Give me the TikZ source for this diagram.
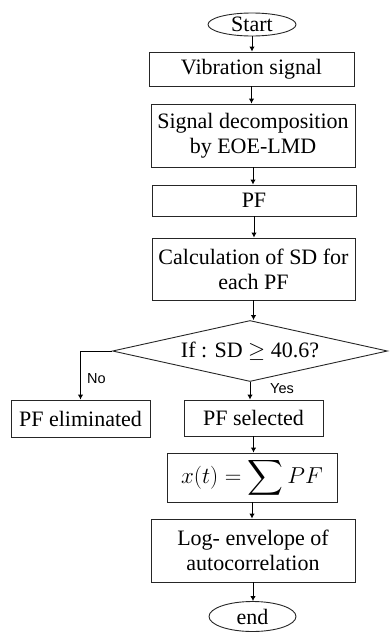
\RequirePackage{fix-cm}
\documentclass[tikz,border=0pt]{standalone}
\usepackage{amsmath}
\usepackage{fontspec}
\setmainfont{Liberation Serif}
\newfontfamily\labelfont{Liberation Sans}
\usetikzlibrary{shapes.geometric,arrows.meta,calc}
\tikzset{
  box/.style={draw=black!85, line width=0.9pt, rectangle, inner sep=0pt, align=center,
    font=\fontsize{22}{25}\selectfont},
  term/.style={draw=black!85, line width=0.9pt, ellipse, inner sep=0pt,
    font=\fontsize{22}{25}\selectfont},
  flow/.style={draw=black, line width=0.9pt, -{Latex[length=5pt,width=5.5pt]}},
  lbl/.style={font=\labelfont\fontsize{14.5}{16}\selectfont, inner sep=0pt}
}
\begin{document}
\begin{tikzpicture}[x=1pt,y=-1pt]
\useasboundingbox (0,0) rectangle (389,632);
\node[term, minimum width=88pt, minimum height=23pt] (start) at (252,24.5) {Start};
\node[box, minimum width=205pt, minimum height=34pt] (vib) at (251.5,69) {Vibration signal};
\node[box, minimum width=204pt, minimum height=63pt] (dec) at (253,135.5) {Signal decomposition\\by EOE-LMD};
\node[box, minimum width=204pt, minimum height=31pt] (pf) at (254,200.5) {PF};
\node[box, minimum width=203pt, minimum height=62pt] (calc) at (253.5,269) {Calculation of SD for\\each PF};
\node[draw=black!85, line width=0.9pt, diamond, aspect=4.52, inner sep=0pt,
  minimum width=275pt, minimum height=61pt, font=\fontsize{22}{25}\selectfont] (dia) at (250,351) {If : SD $\geq$ 40.6?};
\node[box, minimum width=139pt, minimum height=37pt] (elim) at (80.5,418.5) {PF eliminated};
\node[box, minimum width=139pt, minimum height=36pt] (sel) at (253.5,418) {PF selected};
\node[box, minimum width=170pt, minimum height=49pt, font=\fontsize{23}{26}\selectfont] (sum) at (252,477.5) {$x(t) = \displaystyle\sum PF$};
\node[box, minimum width=204pt, minimum height=63pt] (log) at (253,550.5) {Log- envelope of\\autocorrelation};
\node[term, minimum width=87pt, minimum height=30pt] (end) at (252.5,616.5) {end};

\draw[flow] (start.south) -- (start.south |- vib.north);
\draw[flow] (vib.south) -- (vib.south |- dec.north);
\draw[flow] (dec.south) -- (dec.south |- pf.north);
\draw[flow] (pf.south) -- (pf.south |- calc.north);
\draw[flow] (calc.south) -- (calc.south |- dia.north);
\draw[flow] (dia.south) -- (dia.south |- sel.north);
\draw[flow] (sel.south) -- (sel.south |- sum.north);
\draw[flow] (sum.south) -- (sum.south |- log.north);
\draw[flow] (log.south) -- (log.south |- end.north);
\draw[flow] (dia.west) -| (elim.north);
\node[lbl] (no) at (96.5,379) {No};
\node[lbl] (yes) at (282,389) {Yes};
\end{tikzpicture}
\end{document}
